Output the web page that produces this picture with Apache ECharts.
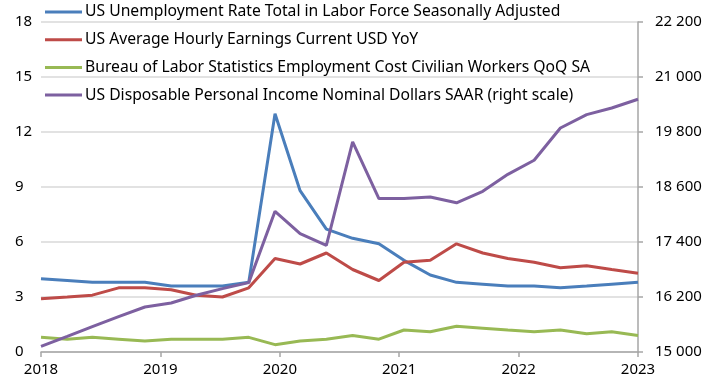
<!DOCTYPE html>
<html>
<head>
<meta charset="utf-8">
<script src="https://cdn.jsdelivr.net/npm/echarts@6/dist/echarts.min.js"></script>
<style>
  html, body { margin: 0; padding: 0; background: #fff; }
  #chart { width: 706px; height: 383px; }
</style>
</head>
<body>
<div id="chart"></div>
<script>
// observation dates, decimal years
var dates = [2018.00, 2018.22, 2018.43, 2018.65, 2018.87, 2019.09, 2019.30, 2019.52,
             2019.74, 2019.96, 2020.17, 2020.39, 2020.61, 2020.83, 2021.04, 2021.26,
             2021.48, 2021.70, 2021.91, 2022.13, 2022.35, 2022.57, 2022.78, 2023.00];

var unemployment = [4.0, 3.9, 3.8, 3.8, 3.8, 3.6, 3.6, 3.6, 3.8, 13.0, 8.8, 6.7,
                    6.2, 5.9, 5.0, 4.2, 3.8, 3.7, 3.6, 3.6, 3.5, 3.6, 3.7, 3.8];
var hourlyEarnings = [2.9, 3.0, 3.1, 3.5, 3.5, 3.4, 3.1, 3.0, 3.5, 5.1, 4.8, 5.4,
                      4.5, 3.9, 4.9, 5.0, 5.9, 5.4, 5.1, 4.9, 4.6, 4.7, 4.5, 4.3];
var employmentCost = [0.8, 0.7, 0.8, 0.7, 0.6, 0.7, 0.7, 0.7, 0.8, 0.4, 0.6, 0.7,
                      0.9, 0.7, 1.2, 1.1, 1.4, 1.3, 1.2, 1.1, 1.2, 1.0, 1.1, 0.9];
var disposableIncome = [15124, 15340, 15555, 15770, 15982, 16069, 16237, 16383,
                        16514, 18070, 17584, 17328, 19582, 18347, 18347, 18382,
                        18255, 18507, 18877, 19183, 19888, 20180, 20324, 20514];

var names = [
  'US Unemployment Rate Total in Labor Force Seasonally Adjusted',
  'US Average Hourly Earnings Current USD YoY',
  'Bureau of Labor Statistics Employment Cost Civilian Workers QoQ SA',
  'US Disposable Personal Income Nominal Dollars SAAR (right scale)'
];
var colors = ['#4a7ebb', '#be4b48', '#98b954', '#7d60a0'];

function pairs(vals) {
  var out = [];
  for (var i = 0; i < vals.length; i++) out.push([dates[i], vals[i]]);
  return out;
}

var font = 'Noto Sans';
var chart = echarts.init(document.getElementById('chart'));
var option = {
  animation: false,
  color: colors,
  textStyle: { fontFamily: font },
  grid: { left: 41, right: 68, top: 22, bottom: 31 },
  legend: {
    orient: 'vertical',
    left: 45,
    top: 2,
    padding: 0,
    itemGap: 7.7,
    itemWidth: 37,
    itemHeight: 3,
    icon: 'rect',
    textStyle: { fontSize: 15.7, color: '#000', lineHeight: 20, fontFamily: font, padding: [0, 0, 0, -2] },
    data: names
  },
  xAxis: {
    type: 'value',
    min: 2018, max: 2023, interval: 1,
    axisLine: { lineStyle: { color: '#a6a6a6', width: 1.5 } },
    axisTick: { show: true, length: 5, lineStyle: { color: '#a6a6a6', width: 1.5 } },
    splitLine: { show: false },
    axisLabel: { fontSize: 15, color: '#000', margin: 10, formatter: function (v) { return String(v); } }
  },
  yAxis: [{
    type: 'value',
    min: 0, max: 18, interval: 3,
    axisLine: { show: false },
    axisTick: { show: false },
    splitLine: { lineStyle: { color: '#d9d9d9', width: 1.5 } },
    axisLabel: { fontSize: 15, color: '#000', align: 'left', margin: 26 }
  }, {
    type: 'value',
    position: 'right',
    min: 15000, max: 22200, interval: 1200,
    axisLine: { show: true, lineStyle: { color: '#a6a6a6', width: 1.5 } },
    axisTick: { show: true, length: 5, lineStyle: { color: '#a6a6a6', width: 1.5 } },
    splitLine: { show: false },
    axisLabel: {
      fontSize: 15, color: '#000', margin: 17,
      formatter: function (v) { return String(v).replace(/\B(?=(\d{3})+(?!\d))/g, ' '); }
    }
  }],
  series: [
    { name: names[0], type: 'line', data: pairs(unemployment) },
    { name: names[1], type: 'line', data: pairs(hourlyEarnings) },
    { name: names[2], type: 'line', data: pairs(employmentCost) },
    { name: names[3], type: 'line', yAxisIndex: 1, data: pairs(disposableIncome) }
  ].map(function (s) {
    s.showSymbol = false;
    s.symbol = 'none';
    s.lineStyle = { width: 3 };
    return s;
  })
};
chart.setOption(option);
</script>
</body>
</html>
